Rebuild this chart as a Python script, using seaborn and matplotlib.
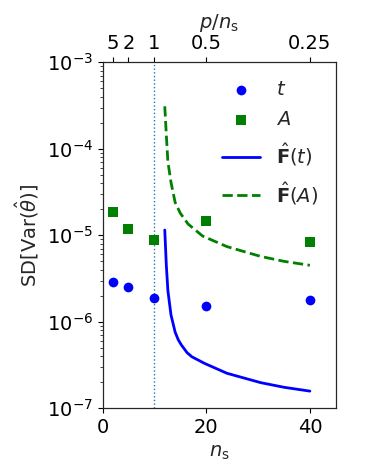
import matplotlib
matplotlib.use("Agg")
import matplotlib.pyplot as plt
import seaborn as sns
import numpy as np

# sample sizes and measured spreads
n_points = [2, 5, 10, 20, 40]
sd_t = [2.9e-6, 2.5e-6, 1.9e-6, 1.52e-6, 1.79e-6]
sd_A = [1.87e-5, 1.19e-5, 8.8e-6, 1.45e-5, 8.3e-6]

# predicted curves
n_curve_t = [12, 12.3, 12.6, 13.2, 14, 14.6, 15.2, 16.3, 17.2, 19.7, 24,
             30.5, 35, 40]
F_t = [1.15e-5, 4.5e-6, 2.3e-6, 1.2e-6, 7.6e-7, 6.2e-7, 5.4e-7, 4.4e-7,
       3.95e-7, 3.3e-7, 2.54e-7, 1.98e-7, 1.75e-7, 1.58e-7]
n_curve_A = [12, 12.3, 12.6, 13.2, 14, 15, 16.5, 19.3, 24, 30.5, 35, 40]
F_A = [3.1e-4, 1.45e-4, 7.1e-5, 4.1e-5, 2.4e-5, 1.8e-5, 1.35e-5, 9.8e-6,
       7.4e-6, 5.7e-6, 5.0e-6, 4.5e-6]

p = 10
top_ticks = [2, 5, 10, 20, 40]
top_labels = ["5", "2", "1", "0.5", "0.25"]

sns.set_style("ticks")
plt.rcParams['font.family'] = ['DejaVu Sans']
plt.rcParams['mathtext.fontset'] = 'dejavusans'
fs = 14

fig = plt.figure(figsize=(3.69, 4.74), dpi=100)
ax = fig.add_axes([0.278, 0.1386, 0.632, 0.730])

ax.axvline(p, color='#1f77b4', linestyle=':', linewidth=1)
sns.scatterplot(x=n_points, y=sd_t, ax=ax, color='b', marker='o', s=49,
                linewidth=0, label='$t$', zorder=3)
sns.scatterplot(x=n_points, y=sd_A, ax=ax, color='g', marker='s', s=49,
                linewidth=0, label='$A$', zorder=3)
sns.lineplot(x=n_curve_t, y=F_t, ax=ax, color='b', linewidth=2,
             label=r'$\hat{\mathbf{F}}(t)$')
sns.lineplot(x=n_curve_A, y=F_A, ax=ax, color='g', linewidth=2,
             linestyle='--', label=r'$\hat{\mathbf{F}}(A)$')

ax.set_yscale('log')
ax.set_ylim(1e-7, 1e-3)
ax.set_xlim(0, 45)
ax.set_xticks([0, 20, 40])
ax.set_xlabel(r'$n_\mathrm{s}$', fontsize=fs)
ax.set_ylabel(r'SD[Var($\hat{\theta}$)]', fontsize=fs)
ax.tick_params(labelsize=fs, colors='k')
for s in ax.spines.values():
    s.set_color('k')

ax2 = ax.twiny()
ax2.set_xlim(ax.get_xlim())
ax2.set_xticks(top_ticks)
ax2.set_xticklabels(top_labels)
ax2.tick_params(labelsize=fs, colors='k')
ax2.set_xlabel(r'$p/n_\mathrm{s}$', fontsize=fs)

ax.legend(loc='upper right', frameon=False, fontsize=fs, labelspacing=0.6)

fig.savefig('out.png', dpi=100)
